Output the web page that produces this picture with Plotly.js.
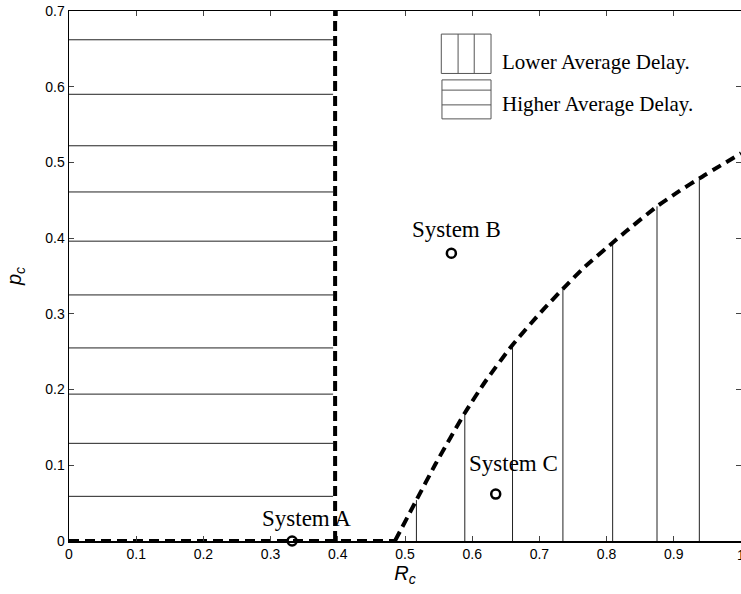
<!DOCTYPE html>
<html>
<head>
<meta charset="utf-8">
<script src="https://cdn.plot.ly/plotly-3.0.1.min.js"></script>
<style>html,body{margin:0;padding:0;background:#fff;}#chart{width:741px;height:594px;}</style>
</head>
<body>
<div id="chart"></div>
<script>
// Horizontal hatch lines (higher average delay region), x from 0 to ~0.4
const hatchLevels = [0.059, 0.129, 0.194, 0.255, 0.325, 0.396, 0.461, 0.522, 0.590, 0.662];
const hatchXEnd = 0.393;
// Vertical hatch lines (lower average delay region)
const vertX = [0.517, 0.589, 0.660, 0.735, 0.809, 0.875, 0.938];
const vertTop = [0.054, 0.169, 0.259, 0.333, 0.394, 0.442, 0.479];
// Boundary: flat part along p_c = 0, then the rising curve
const flatX = [0, 0.485];
const flatY = [0, 0];
const curveX = [0.485, 0.517, 0.545, 0.589, 0.619, 0.660, 0.705, 0.735, 0.765, 0.809, 0.829, 0.875, 0.908, 0.938, 1.0];
const curveY = [0, 0.054, 0.101, 0.169, 0.210, 0.259, 0.305, 0.333, 0.360, 0.394, 0.409, 0.442, 0.462, 0.479, 0.512];
// Vertical boundary near Rc = 0.4
const boundX = [0.396, 0.396];
const boundY = [0, 0.7];
// Systems
const sysNames = ["System A", "System B", "System C"];
const sysX = [0.332, 0.569, 0.635];
const sysY = [0.0, 0.380, 0.062];
// Tick labels
const xTicks = [0, 0.1, 0.2, 0.3, 0.4, 0.5, 0.6, 0.7, 0.8, 0.9];
const xLastTick = 1;
const yTicks = [0, 0.1, 0.2, 0.3, 0.4, 0.5, 0.6, 0.7];
const legendLabels = ["Lower Average Delay.", "Higher Average Delay."];

const hx = [], hy = [];
hatchLevels.forEach(v => { hx.push(0, hatchXEnd, null); hy.push(v, v, null); });
const vx = [], vy = [];
vertX.forEach((x, i) => { vx.push(x, x, null); vy.push(0, vertTop[i], null); });

const traces = [
  {x: hx, y: hy, mode: 'lines', line: {color: '#222', width: 1}, hoverinfo: 'skip', showlegend: false},
  {x: vx, y: vy, mode: 'lines', line: {color: '#222', width: 1}, hoverinfo: 'skip', showlegend: false},
  {x: flatX, y: flatY, mode: 'lines', line: {color: '#000', width: 4, dash: '10px,6px'}, showlegend: false},
  {x: curveX, y: curveY, mode: 'lines', line: {color: '#000', width: 4, dash: '10px,6px', shape: 'spline', smoothing: 0.5}, showlegend: false},
  {x: boundX, y: boundY, mode: 'lines', line: {color: '#000', width: 4, dash: '10px,5px'}, showlegend: false},
  {x: sysX, y: sysY, mode: 'markers', marker: {symbol: 'circle-open', size: 9, color: '#000', line: {width: 2.5, color: '#000'}}, cliponaxis: false, showlegend: false}
];

const serif = 'Liberation Serif, Times New Roman, serif';
const sans = 'Liberation Sans, Arial, Helvetica, sans-serif';

const labelOffsets = [[0.022, 0.030], [0.008, 0.031], [0.026, 0.040]];
const annotations = sysNames.map((n, i) => ({
  x: sysX[i] + labelOffsets[i][0], y: sysY[i] + labelOffsets[i][1], xref: 'x', yref: 'y',
  text: n, showarrow: false, font: {family: serif, size: 23, color: '#000'}, xanchor: 'center', yanchor: 'middle'
}));
annotations.push(
  {x: 0.642, y: 0.632, xref: 'x', yref: 'y', text: legendLabels[0], showarrow: false, xanchor: 'left', yanchor: 'middle', font: {family: serif, size: 21, color: '#000'}},
  {x: 0.642, y: 0.577, xref: 'x', yref: 'y', text: legendLabels[1], showarrow: false, xanchor: 'left', yanchor: 'middle', font: {family: serif, size: 21, color: '#000'}},
  {x: xLastTick, y: 0, xref: 'x', yref: 'y', text: String(xLastTick), showarrow: false, xanchor: 'center', yanchor: 'top', yshift: -4, font: {family: sans, size: 14, color: '#000'}}
);

const lc = {color: '#555', width: 1};
const shapes = [
  {type: 'rect', xref: 'x', yref: 'y', x0: 0.554, x1: 0.628, y0: 0.6175, y1: 0.6695, line: lc},
  {type: 'line', xref: 'x', yref: 'y', x0: 0.579, x1: 0.579, y0: 0.6175, y1: 0.6695, line: lc},
  {type: 'line', xref: 'x', yref: 'y', x0: 0.603, x1: 0.603, y0: 0.6175, y1: 0.6695, line: lc},
  {type: 'rect', xref: 'x', yref: 'y', x0: 0.555, x1: 0.628, y0: 0.5575, y1: 0.609, line: lc},
  {type: 'line', xref: 'x', yref: 'y', x0: 0.555, x1: 0.628, y0: 0.5955, y1: 0.5955, line: lc},
  {type: 'line', xref: 'x', yref: 'y', x0: 0.555, x1: 0.628, y0: 0.576, y1: 0.576, line: lc}
];

const layout = {
  width: 741, height: 594,
  margin: {l: 69, r: 0, t: 11, b: 53},
  paper_bgcolor: '#fff', plot_bgcolor: '#fff',
  showlegend: false,
  xaxis: {
    range: [0, 1], tickvals: xTicks, ticktext: xTicks.map(String), ticks: 'inside', ticklen: 5,
    showline: true, linecolor: '#000', linewidth: 1.5, mirror: 'ticks', showgrid: false, zeroline: false,
    tickfont: {family: sans, size: 14, color: '#000'},
    title: {text: '<i>R</i><sub><i>c</i></sub>', font: {family: sans, size: 20, color: '#000'}, standoff: 0}
  },
  yaxis: {
    range: [0, 0.7], tickvals: yTicks, ticktext: yTicks.map(String), ticks: 'inside', ticklen: 5,
    showline: true, linecolor: '#000', linewidth: 1.5, mirror: 'ticks', showgrid: false, zeroline: false,
    tickfont: {family: sans, size: 14, color: '#000'},
    title: {text: '<i>p</i><sub><i>c</i></sub>', font: {family: sans, size: 20, color: '#000'}, standoff: 18}
  },
  annotations: annotations,
  shapes: shapes
};

Plotly.newPlot('chart', traces, layout, {displayModeBar: false, staticPlot: true});
</script>
</body>
</html>
